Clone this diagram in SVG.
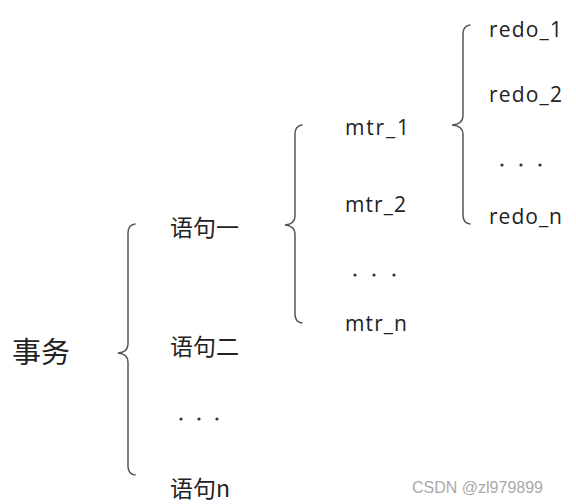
<svg xmlns="http://www.w3.org/2000/svg" width="576" height="504" viewBox="0 0 576 504">
<style>
.br{fill:none;stroke:#555;stroke-width:1.5;stroke-linecap:round}
.t{font-family:"Open Sans","Noto Sans CJK SC",sans-serif;font-size:21px;fill:#222}
.c{font-family:"Noto Sans CJK SC",sans-serif;font-size:23px;fill:#222}
.d{fill:#333}
.wm{font-family:"Liberation Sans",Arial,sans-serif;font-size:16px;fill:#aaa}
</style>
<rect width="576" height="504" fill="#fff"/>
<g id="connectors">
<path class="br" d="M135,224 Q128,225 128,233 L128,344 Q128,352 118,353 Q128,354 128,362 L128,466 Q128,474 135,475"/>
<path class="br" d="M302,125 Q295,126 295,134 L295,216 Q295,224 285,225 Q295,226 295,234 L295,314 Q295,322 302,323"/>
<path class="br" d="M470,25 Q463,26 463,34 L463,116 Q463,124 452,125 Q463,126 463,134 L463,215 Q463,223 470,224"/>
</g>
<g id="n-shiwu"><text class="c" x="12" y="363" style="font-size:29px">事务</text></g>
<g id="n-yuju1"><text class="c" x="170" y="236">语句一</text></g>
<g id="n-yuju2"><text class="c" x="170" y="355">语句二</text></g>
<g id="n-dots1"><circle class="d" cx="181" cy="419" r="1.6"/><circle class="d" cx="199" cy="419" r="1.6"/><circle class="d" cx="217" cy="419" r="1.6"/></g>
<g id="n-yujun"><text class="c" x="170" y="497">语句n</text></g>
<g id="n-mtr1"><text class="t" x="345" y="135" textLength="64" lengthAdjust="spacing">mtr_1</text></g>
<g id="n-mtr2"><text class="t" x="345" y="212" textLength="61" lengthAdjust="spacing">mtr_2</text></g>
<g id="n-dots2"><circle class="d" cx="355" cy="275" r="1.6"/><circle class="d" cx="374" cy="275" r="1.6"/><circle class="d" cx="394" cy="275" r="1.6"/></g>
<g id="n-mtrn"><text class="t" x="345" y="331" textLength="62" lengthAdjust="spacing">mtr_n</text></g>
<g id="n-redo1"><text class="t" x="489" y="37" textLength="73" lengthAdjust="spacing">redo_1</text></g>
<g id="n-redo2"><text class="t" x="489" y="102" textLength="73" lengthAdjust="spacing">redo_2</text></g>
<g id="n-dots3"><circle class="d" cx="502" cy="165" r="1.6"/><circle class="d" cx="521" cy="165" r="1.6"/><circle class="d" cx="540" cy="165" r="1.6"/></g>
<g id="n-redon"><text class="t" x="489" y="224" textLength="73" lengthAdjust="spacing">redo_n</text></g>
<text class="wm" x="412" y="493">CSDN @zl979899</text>
</svg>
